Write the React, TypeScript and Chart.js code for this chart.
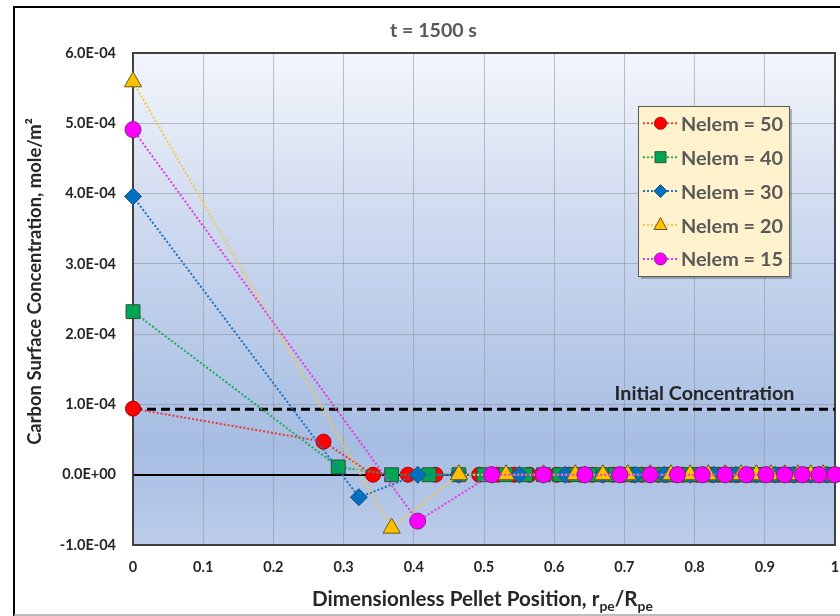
import { useEffect, useRef } from 'react';
import { Chart, registerables } from 'chart.js';

Chart.register(...registerables);

// Node positions r/R for each mesh (equal-volume shells) and surface concentrations
const nelem50X = [
  0, 0.2714, 0.342, 0.3915, 0.4309, 0.4642, 0.4932, 0.5192, 0.5429, 0.5646,
  0.5848, 0.6037, 0.6214, 0.6383, 0.6542, 0.6694, 0.684, 0.698, 0.7114, 0.7243,
  0.7368, 0.7489, 0.7606, 0.7719, 0.783, 0.7937, 0.8041, 0.8143, 0.8243, 0.834,
  0.8434, 0.8527, 0.8618, 0.8707, 0.8794, 0.8879, 0.8963, 0.9045, 0.9126, 0.9205,
  0.9283, 0.936, 0.9435, 0.951, 0.9583, 0.9655, 0.9726, 0.9796, 0.9865, 0.9933,
  1,
];
const nelem50Y = [
  9.4e-5, 4.7e-5, 0, 0, 0, 0, 0, 0, 0, 0,
  0, 0, 0, 0, 0, 0, 0, 0, 0, 0,
  0, 0, 0, 0, 0, 0, 0, 0, 0, 0,
  0, 0, 0, 0, 0, 0, 0, 0, 0, 0,
  0, 0, 0, 0, 0, 0, 0, 0, 0, 0,
  0,
];

const nelem40X = [
  0, 0.2924, 0.3684, 0.4217, 0.4642, 0.5, 0.5313, 0.5593, 0.5848, 0.6082,
  0.63, 0.6503, 0.6694, 0.6875, 0.7047, 0.7211, 0.7368, 0.7518, 0.7663, 0.7802,
  0.7937, 0.8067, 0.8193, 0.8315, 0.8434, 0.855, 0.8662, 0.8772, 0.8879, 0.8984,
  0.9086, 0.9185, 0.9283, 0.9378, 0.9473, 0.9565, 0.9655, 0.9743, 0.983, 0.9916,
  1,
];
const nelem40Y = [
  2.32e-4, 1.1e-5, 0, 0, 0, 0, 0, 0, 0, 0,
  0, 0, 0, 0, 0, 0, 0, 0, 0, 0,
  0, 0, 0, 0, 0, 0, 0, 0, 0, 0,
  0, 0, 0, 0, 0, 0, 0, 0, 0, 0,
  0,
];

const nelem30X = [
  0, 0.3218, 0.4055, 0.4642, 0.5109, 0.5503, 0.5848, 0.6156, 0.6437, 0.6694,
  0.6934, 0.7157, 0.7368, 0.7566, 0.7756, 0.7937, 0.8109, 0.8275, 0.8434, 0.8586,
  0.8736, 0.8879, 0.9018, 0.9153, 0.9283, 0.941, 0.9535, 0.9655, 0.9773, 0.9888,
  1,
];
const nelem30Y = [
  3.96e-4, -3.2e-5, 0, 0, 0, 0, 0, 0, 0, 0,
  0, 0, 0, 0, 0, 0, 0, 0, 0, 0,
  0, 0, 0, 0, 0, 0, 0, 0, 0, 0,
  0,
];

const nelem20X = [
  0, 0.3684, 0.4642, 0.5313, 0.5848, 0.63, 0.6694, 0.7047, 0.7368, 0.7663,
  0.7937, 0.8193, 0.8434, 0.8662, 0.8879, 0.9086, 0.9283, 0.9473, 0.9655, 0.983,
  1,
];
const nelem20Y = [
  5.59e-4, -7.6e-5, 0, 0, 0, 0, 0, 0, 0, 0,
  0, 0, 0, 0, 0, 0, 0, 0, 0, 0,
  0,
];

const nelem15X = [
  0, 0.4055, 0.5109, 0.5848, 0.6437, 0.6934, 0.7368, 0.7756, 0.8109, 0.8434,
  0.8736, 0.9018, 0.9283, 0.9535, 0.9773, 1,
];
const nelem15Y = [
  4.91e-4, -6.6e-5, 0, 0, 0, 0, 0, 0, 0, 0,
  0, 0, 0, 0, 0, 0,
];

const initialConcentration = 9.3e-5;

const seriesLabels = ['Nelem = 50', 'Nelem = 40', 'Nelem = 30', 'Nelem = 20', 'Nelem = 15'];
const titleText = 't = 1500 s';
const yAxisTitle = 'Carbon Surface Concentration, mole/m\u00B2';
const initialLabel = 'Initial Concentration';

const FONT = 'Lato, "Open Sans", "DejaVu Sans", sans-serif';

type Shape = 'circle' | 'rect' | 'rectRot' | 'triangle';

interface SeriesStyle {
  shape: Shape;
  fill: string;
  edge: string;
  line: string;
  radius: number;
  legendRadius: number;
}

const styles: SeriesStyle[] = [
  { shape: 'circle', fill: '#FF0000', edge: '#B00000', line: '#E8383C', radius: 7.5, legendRadius: 6 },
  { shape: 'rect', fill: '#00A651', edge: '#2F4F3A', line: '#1FAA5A', radius: 9.8, legendRadius: 5.5 },
  { shape: 'rectRot', fill: '#0070C0', edge: '#1F4E79', line: '#1A74C4', radius: 8.5, legendRadius: 6.5 },
  { shape: 'triangle', fill: '#FFC000', edge: '#6B5A20', line: '#F2C94C', radius: 10, legendRadius: 7.5 },
  { shape: 'circle', fill: '#FF00FF', edge: '#8E1A8E', line: '#E03BE0', radius: 8, legendRadius: 6 },
];

const xs = [nelem50X, nelem40X, nelem30X, nelem20X, nelem15X];
const ys = [nelem50Y, nelem40Y, nelem30Y, nelem20Y, nelem15Y];

function formatSci(v: number): string {
  if (Math.abs(v) < 1e-15) return '0.0E+00';
  const exp = Math.floor(Math.log10(Math.abs(v)) + 1e-9);
  const mant = v / Math.pow(10, exp);
  const sign = exp < 0 ? '-' : '+';
  const e = String(Math.abs(exp)).padStart(2, '0');
  return `${mant.toFixed(1)}E${sign}${e}`;
}

function fitSize(ctx: CanvasRenderingContext2D, text: string, width: number): number {
  ctx.font = `bold 100px ${FONT}`;
  return (100 * width) / ctx.measureText(text).width;
}

function drawMarker(
  ctx: CanvasRenderingContext2D,
  shape: Shape,
  x: number,
  y: number,
  r: number,
  fill: string,
  edge: string,
) {
  ctx.beginPath();
  if (shape === 'circle') {
    ctx.arc(x, y, r, 0, Math.PI * 2);
  } else if (shape === 'rect') {
    ctx.rect(x - r, y - r, 2 * r, 2 * r);
  } else if (shape === 'rectRot') {
    ctx.moveTo(x, y - r);
    ctx.lineTo(x + r, y);
    ctx.lineTo(x, y + r);
    ctx.lineTo(x - r, y);
    ctx.closePath();
  } else {
    ctx.moveTo(x, y - r);
    ctx.lineTo(x + r * 0.87, y + r * 0.6);
    ctx.lineTo(x - r * 0.87, y + r * 0.6);
    ctx.closePath();
  }
  ctx.fillStyle = fill;
  ctx.fill();
  ctx.lineWidth = 1;
  ctx.strokeStyle = edge;
  ctx.stroke();
}

const decorPlugin = {
  id: 'decor',
  beforeDraw(chart: any) {
    const { ctx, chartArea: a } = chart;
    ctx.save();
    ctx.fillStyle = '#FFFFFF';
    ctx.fillRect(0, 0, chart.width, chart.height);
    const g = ctx.createLinearGradient(0, a.top, 0, a.bottom);
    g.addColorStop(0, '#F3F6FB');
    g.addColorStop(0.35, '#CDD9EF');
    g.addColorStop(0.8, '#A6BDE2');
    g.addColorStop(1, '#BCCDEA');
    ctx.fillStyle = g;
    ctx.fillRect(a.left, a.top, a.right - a.left, a.bottom - a.top);
    ctx.restore();
  },
  beforeDatasetsDraw(chart: any) {
    const { ctx, chartArea: a } = chart;
    ctx.save();
    ctx.strokeStyle = '#404040';
    ctx.lineWidth = 2;
    ctx.strokeRect(a.left, a.top, a.right - a.left, a.bottom - a.top);
    ctx.restore();
  },
  afterDraw(chart: any) {
    const { ctx } = chart;
    const xScale = chart.scales.x;
    const yScale = chart.scales.y;
    ctx.save();

    // outer frame
    ctx.strokeStyle = '#000000';
    ctx.lineWidth = 2;
    ctx.beginPath();
    ctx.moveTo(14, 616);
    ctx.lineTo(14, 7);
    ctx.lineTo(840, 7);
    ctx.stroke();
    ctx.strokeStyle = '#A6A6A6';
    ctx.lineWidth = 1.5;
    ctx.beginPath();
    ctx.moveTo(14, 615);
    ctx.lineTo(840, 615);
    ctx.stroke();

    // title
    let size = fitSize(ctx, titleText, 87);
    ctx.font = `bold ${size}px ${FONT}`;
    ctx.fillStyle = '#595959';
    ctx.textAlign = 'center';
    ctx.textBaseline = 'alphabetic';
    ctx.fillText(titleText, 433.5, 37);

    // y axis title
    size = fitSize(ctx, yAxisTitle, 327);
    ctx.save();
    ctx.translate(41, 281.5);
    ctx.rotate(-Math.PI / 2);
    ctx.font = `bold ${size}px ${FONT}`;
    ctx.fillStyle = '#262626';
    ctx.textAlign = 'center';
    ctx.fillText(yAxisTitle, 0, 0);
    ctx.restore();

    // x axis title with subscripts
    const parts: [string, boolean][] = [
      ['Dimensionless Pellet Position, r', false],
      ['pe', true],
      ['/R', false],
      ['pe', true],
    ];
    const mainSize = 18.5;
    const subSize = 12.5;
    let total = 0;
    for (const [t, sub] of parts) {
      ctx.font = `bold ${sub ? subSize : mainSize}px ${FONT}`;
      total += ctx.measureText(t).width;
    }
    const scale = 341 / total;
    let cx = 482.5 - 341 / 2;
    ctx.fillStyle = '#262626';
    ctx.textAlign = 'left';
    for (const [t, sub] of parts) {
      ctx.font = `bold ${(sub ? subSize : mainSize) * scale}px ${FONT}`;
      ctx.fillText(t, cx, sub ? 611 : 606);
      cx += ctx.measureText(t).width;
    }

    // initial concentration label
    size = fitSize(ctx, initialLabel, 180);
    ctx.font = `bold ${size}px ${FONT}`;
    ctx.fillStyle = '#262626';
    ctx.fillText(initialLabel, xScale.getPixelForValue(0.686), yScale.getPixelForValue(initialConcentration) - 9);

    // legend box
    const lx = 638;
    const ly = 106;
    const lw = 151;
    const lh = 170;
    ctx.fillStyle = 'rgba(0,0,0,0.25)';
    ctx.fillRect(lx + 3, ly + 3, lw, lh);
    ctx.fillStyle = '#FFF2CC';
    ctx.fillRect(lx, ly, lw, lh);
    ctx.strokeStyle = '#595959';
    ctx.lineWidth = 1;
    ctx.strokeRect(lx + 0.5, ly + 0.5, lw, lh);

    const legendSize = fitSize(ctx, seriesLabels[0], 102);
    seriesLabels.forEach((label, i) => {
      const st = styles[i];
      const rowY = 123.3 + i * 33.9;
      ctx.save();
      ctx.strokeStyle = st.line;
      ctx.lineWidth = 2;
      ctx.setLineDash([2, 2]);
      ctx.beginPath();
      ctx.moveTo(643, rowY);
      ctx.lineTo(678, rowY);
      ctx.stroke();
      ctx.restore();
      drawMarker(ctx, st.shape, 660.5, rowY, st.legendRadius, st.fill, st.edge);
      ctx.font = `bold ${legendSize}px ${FONT}`;
      ctx.fillStyle = '#595959';
      ctx.textAlign = 'left';
      ctx.textBaseline = 'alphabetic';
      ctx.fillText(label, 681, rowY + 7.5);
    });

    ctx.restore();
  },
};

export default function App() {
  const canvasRef = useRef<HTMLCanvasElement | null>(null);

  useEffect(() => {
    const canvas = canvasRef.current;
    if (!canvas) return;

    const seriesSets = seriesLabels.map((label, i) => {
      const st = styles[i];
      return {
        label,
        data: xs[i].map((x, j) => ({ x, y: ys[i][j] })),
        borderColor: st.line,
        borderWidth: 2,
        borderDash: [2, 2],
        pointStyle: st.shape,
        pointRadius: st.radius,
        pointBackgroundColor: st.fill,
        pointBorderColor: st.edge,
        pointBorderWidth: 1,
        showLine: true,
        fill: false,
        tension: 0,
        clip: false as const,
        order: 5 - i,
      };
    });

    const chart = new Chart(canvas, {
      type: 'scatter',
      data: {
        datasets: [
          {
            label: initialLabel,
            data: [
              { x: 0, y: initialConcentration },
              { x: 1, y: initialConcentration },
            ],
            borderColor: '#000000',
            borderWidth: 3,
            borderDash: [9, 5],
            pointRadius: 0,
            showLine: true,
            fill: false,
            order: 10,
          },
          ...seriesSets,
        ] as any,
      },
      options: {
        responsive: false,
        animation: false,
        events: [],
        layout: { autoPadding: false, padding: { left: 0, top: 53, right: 5, bottom: 0 } },
        plugins: {
          legend: { display: false },
          title: { display: false },
          tooltip: { enabled: false },
        },
        scales: {
          x: {
            type: 'linear',
            min: 0,
            max: 1,
            afterFit: (s: any) => {
              s.height = 71;
              s.paddingLeft = 0;
              s.paddingRight = 0;
            },
            border: { display: false },
            grid: {
              drawTicks: false,
              color: 'rgba(140,145,155,0.55)',
              lineWidth: 1,
            },
            ticks: {
              stepSize: 0.1,
              padding: 14,
              color: '#262626',
              font: { family: FONT, size: 14.5, weight: 'bold' },
              callback: (v: any) => String(Number(Number(v).toFixed(1))),
            },
          },
          y: {
            type: 'linear',
            min: -1e-4,
            max: 6e-4,
            afterFit: (s: any) => {
              s.width = 133;
              s.paddingTop = 0;
              s.paddingBottom = 0;
            },
            border: { display: false },
            grid: {
              drawTicks: false,
              color: (c: any) => (Math.abs(c.tick.value) < 1e-12 ? '#000000' : 'rgba(140,145,155,0.55)'),
              lineWidth: (c: any) => (Math.abs(c.tick.value) < 1e-12 ? 2 : 1),
            },
            ticks: {
              stepSize: 1e-4,
              padding: 17,
              color: '#262626',
              font: { family: FONT, size: 14.5, weight: 'bold' },
              callback: (v: any) => formatSci(Number(v)),
            },
          },
        },
      },
      plugins: [decorPlugin],
    });

    return () => {
      chart.destroy();
    };
  }, []);

  return (
    <div style={{ position: 'fixed', left: 0, top: 0, width: 840, height: 616, background: '#ffffff' }}>
      <canvas ref={canvasRef} width={840} height={616} style={{ display: 'block' }} />
    </div>
  );
}
